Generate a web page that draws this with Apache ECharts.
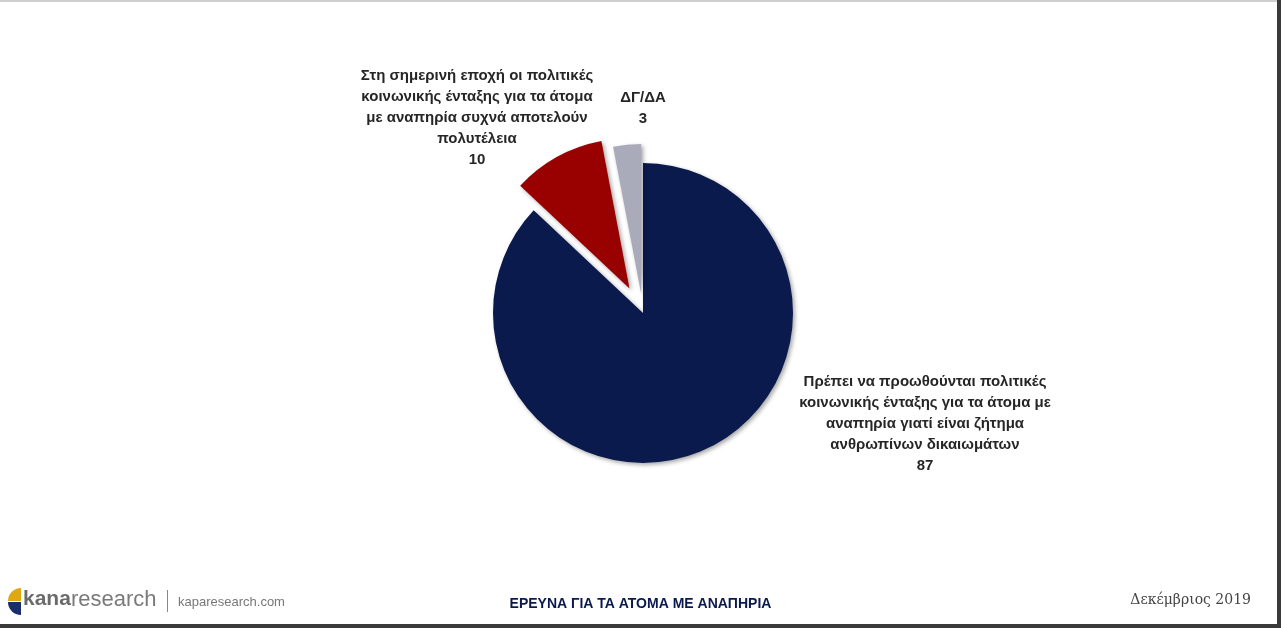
<!DOCTYPE html>
<html>
<head>
<meta charset="utf-8">
<script src="https://cdn.jsdelivr.net/npm/echarts@6/dist/echarts.min.js"></script>
<style>
html,body{margin:0;padding:0;background:#fff;}
#chart{width:1281px;height:628px;}
</style>
</head>
<body>
<div id="chart"></div>
<script>
// ---- data ----
const categories = [
  'Πρέπει να προωθούνται πολιτικές\nκοινωνικής ένταξης για τα άτομα με\nαναπηρία γιατί είναι ζήτημα\nανθρωπίνων δικαιωμάτων',
  'Στη σημερινή εποχή οι πολιτικές\nκοινωνικής ένταξης για τα άτομα\nμε αναπηρία συχνά αποτελούν\nπολυτέλεια',
  'ΔΓ/ΔΑ'
];
const values = [87, 10, 3];
const colors = ['#0b1a4d', '#990000', '#a9abba'];
const explode = [0, 28, 19];        // slice offset (px), layout only
const footerTitle = 'ΕΡΕΥΝΑ ΓΙΑ ΤΑ ΑΤΟΜΑ ΜΕ ΑΝΑΠΗΡΙΑ';
const footerDate = 'Δεκέμβριος 2019';
const footerSite = 'kaparesearch.com';

// label anchor positions (layout only)
const labelPos = [[925, 424], [477, 118], [643, 108]];

const CX = 643, CY = 313, R = 150;

const chart = echarts.init(document.getElementById('chart'), null, {renderer: 'canvas'});

const total = values.reduce((a, b) => a + b, 0);
// mid angle of each slice (clockwise from 12 o'clock)
const midAngles = [];
{
  let acc = 0;
  values.forEach(v => { midAngles.push((acc + v / 2) / total * 2 * Math.PI); acc += v; });
}

function buildData(visibleIdx) {
  return categories.map((c, i) => {
    const vis = i === visibleIdx;
    return {
      name: c,
      value: values[i],
      itemStyle: vis ? {
        color: colors[i],
        shadowBlur: 4, shadowOffsetX: 2, shadowOffsetY: 2,
        shadowColor: 'rgba(0,0,0,0.35)'
      } : {color: 'rgba(0,0,0,0)', shadowBlur: 0},
      label: {show: vis}
    };
  });
}

const labelStyle = {
  show: true,
  formatter: '{b}\n{c}',
  fontFamily: '"Liberation Sans", Arial, sans-serif',
  fontWeight: 'bold',
  fontSize: 15,
  lineHeight: 21,
  color: '#262626',
  align: 'center'
};

function layoutFn(params) {
  const p = labelPos[params.dataIndex];
  return {x: p[0], y: p[1], align: 'center', verticalAlign: 'middle'};
}

const series = values.map((v, i) => ({
  type: 'pie',
  center: [CX + Math.sin(midAngles[i]) * explode[i], CY - Math.cos(midAngles[i]) * explode[i]],
  radius: [0, R],
  startAngle: 90,
  clockwise: true,
  silent: true,
  emphasis: {disabled: true},
  label: labelStyle,
  labelLine: {show: false},
  labelLayout: layoutFn,
  data: buildData(i)
}));

const option = {
  backgroundColor: '#fff',
  animation: false,
  series: series,
  graphic: [
    // frame lines
    {type: 'rect', shape: {x: 0, y: 0, width: 1281, height: 2}, style: {fill: '#cfcfcf'}, silent: true},
    {type: 'rect', shape: {x: 1277, y: 0, width: 4, height: 628}, style: {fill: '#3a3a3a'}, silent: true},
    {type: 'rect', shape: {x: 0, y: 624, width: 1281, height: 4}, style: {fill: '#3a3a3a'}, silent: true},
    // logo icon
    {type: 'sector', shape: {cx: 21, cy: 601, r0: 0, r: 13, startAngle: Math.PI, endAngle: Math.PI * 1.5}, style: {fill: '#e0a810'}, silent: true},
    {type: 'sector', shape: {cx: 21, cy: 602, r0: 0, r: 13, startAngle: Math.PI * 0.5, endAngle: Math.PI}, style: {fill: '#1a2e6b'}, silent: true},
    // logo text
    {type: 'text', left: 23, top: 589, silent: true,
      style: {text: 'kana', fontFamily: '"Liberation Sans", Arial, sans-serif', fontWeight: 'bold', fontSize: 21, fill: '#6b6b6b'}},
    {type: 'text', left: 71, top: 589, silent: true,
      style: {text: 'research', fontFamily: '"Liberation Sans Narrow", "Liberation Sans", Arial, sans-serif', fontSize: 22, fill: '#7a7a7a'}},
    {type: 'rect', shape: {x: 167, y: 590, width: 1, height: 22}, style: {fill: '#888'}, silent: true},
    {type: 'text', left: 178, top: 596, silent: true,
      style: {text: footerSite, fontFamily: '"Liberation Sans Narrow", "Liberation Sans", Arial, sans-serif', fontSize: 13, fill: '#777'}},
    // footer title
    {type: 'text', left: 'center', top: 597, silent: true,
      style: {text: footerTitle, fontFamily: '"Liberation Sans", Arial, sans-serif', fontWeight: 'bold', fontSize: 14, fill: '#0b1a4d'}},
    // date
    {type: 'text', right: 30, top: 593, silent: true,
      style: {text: footerDate, fontFamily: '"DejaVu Serif", "Liberation Serif", serif', fontSize: 14, fill: '#444'}}
  ]
};
chart.setOption(option);
</script>
</body>
</html>
